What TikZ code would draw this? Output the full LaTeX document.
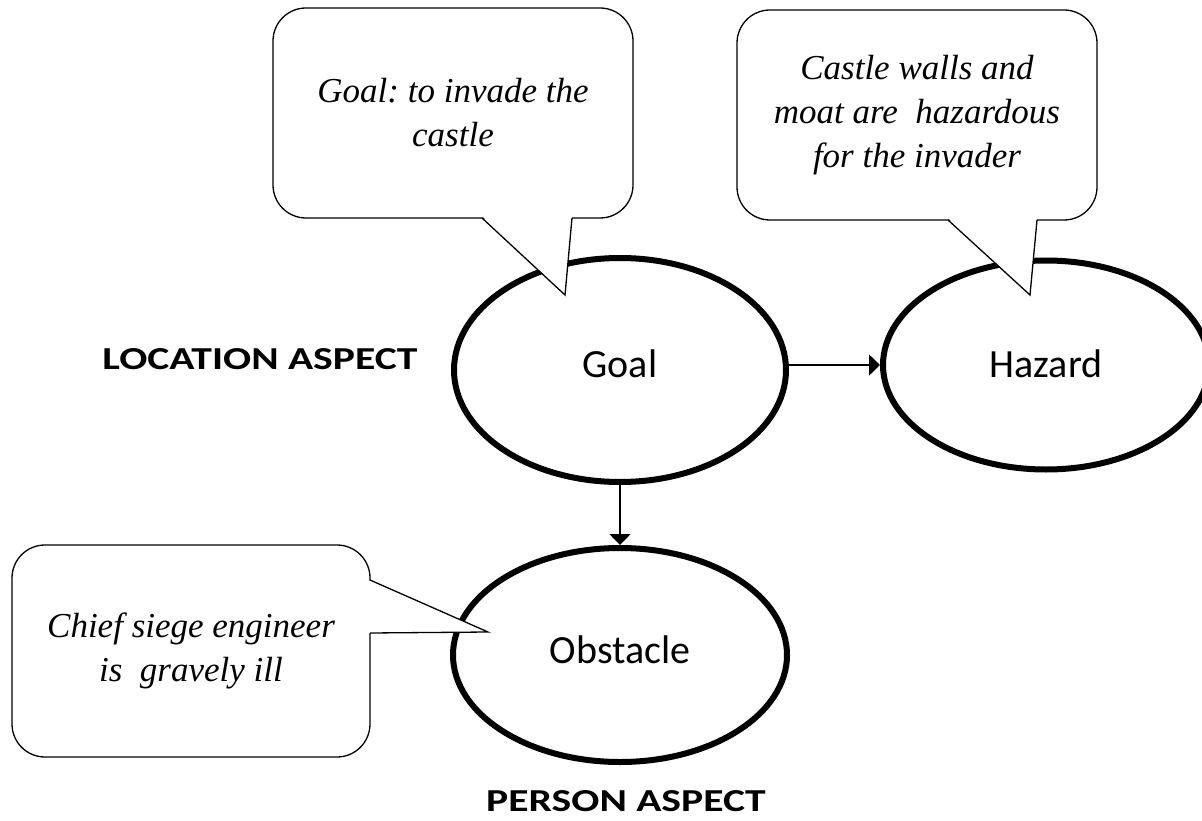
\documentclass[tikz,border=0pt]{standalone}
\usepackage{fontspec}
\newfontfamily\labelfont{Carlito}
\newfontfamily\aspectfont[FakeStretch=1.3]{Carlito}
\newfontfamily\notefont{Liberation Serif}
\usetikzlibrary{shapes.geometric,arrows.meta}
\frenchspacing

\begin{document}
\begin{tikzpicture}[x=1pt,y=-1pt,
  element/.style={ellipse,draw,line width=6pt,fill=white,inner sep=0pt,
    font=\labelfont\fontsize{40}{48}\selectfont,text height=27pt},
  aspect/.style={font=\aspectfont\bfseries\fontsize{32}{38}\selectfont,
    inner sep=0pt,anchor=base},
  bubble/.style={draw,line width=1.3pt,fill=white,rounded corners=33pt,
    align=center,inner sep=0pt,font=\notefont\itshape\fontsize{35}{44}\selectfont},
  link/.style={line width=1.6pt,-{Triangle[length=11pt,width=21pt]}},
  tail/.style={line width=1.3pt,line join=miter}]

% canvas
\fill[white] (0,0) rectangle (1202,821);
\useasboundingbox (0,0) rectangle (1202,821);

% story elements
\node[element,minimum width=332pt,minimum height=224pt,text depth=13pt]
  (goal) at (620,370) {Goal};
\node[element,minimum width=326pt,minimum height=209pt,text depth=3pt]
  (hazard) at (1046,365) {Hazard};
\node[element,minimum width=334pt,minimum height=214pt,text depth=11pt]
  (obstacle) at (620,655) {Obstacle};

% aspect labels
\node[aspect] (locaspect) at (260,369) {LOCATION ASPECT};
\node[aspect] (peraspect) at (626,811) {PERSON ASPECT};

% connectors
\draw[link] (goal.east |- hazard.west) -- (hazard.west);
\draw[link] (goal.south) -- (obstacle.north);

% speech bubbles
\node[bubble,minimum width=360pt,minimum height=210pt]
  (b1) at (453,113) {Goal: to invade the\\castle};
\node[bubble,minimum width=360pt,minimum height=210pt]
  (b2) at (917,115) {Castle walls and\\moat are~ hazardous\\for the invader};
\node[bubble,minimum width=358pt,minimum height=212pt]
  (b3) at (191,651) {Chief siege engineer\\is~ gravely ill};

% bubble tails
\coordinate (b1l) at (482,218);
\coordinate (b1tip) at (565,295);
\coordinate (b1r) at (572,218);
\fill[white] ([yshift=2pt]b1l) -- (b1tip) -- ([yshift=2pt]b1r) -- cycle;
\draw[tail] (b1l) -- (b1tip) -- (b1r);

\coordinate (b2l) at (948,220);
\coordinate (b2tip) at (1030,295);
\coordinate (b2r) at (1037,220);
\fill[white] ([yshift=2pt]b2l) -- (b2tip) -- ([yshift=2pt]b2r) -- cycle;
\draw[tail] (b2l) -- (b2tip) -- (b2r);

\coordinate (b3u) at (370,580);
\coordinate (b3tip) at (488,632);
\coordinate (b3d) at (370,633);
\fill[white] ([xshift=-2pt]b3u) -- (b3tip) -- ([xshift=-2pt]b3d) -- cycle;
\draw[tail] (b3u) -- (b3tip) -- (b3d);

\end{tikzpicture}
\end{document}
